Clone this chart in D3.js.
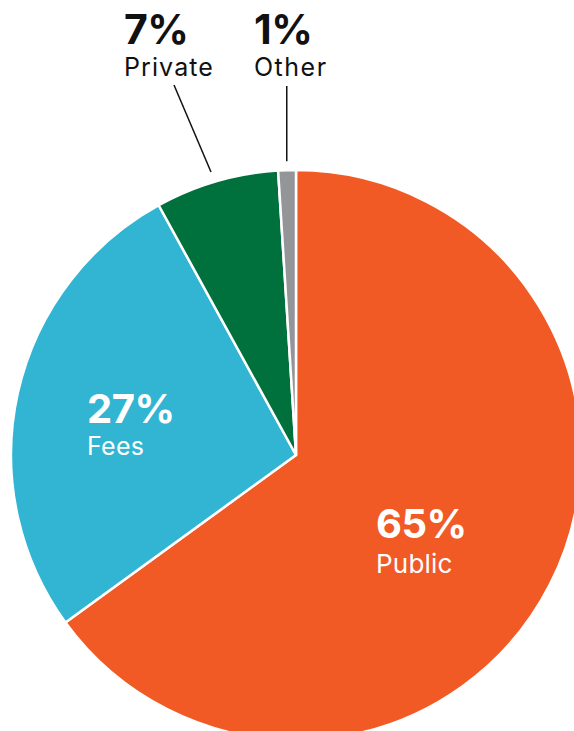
<!DOCTYPE html>
<html><head><meta charset="utf-8">
<script src="https://cdn.jsdelivr.net/npm/d3@7"></script>
<style>body{margin:0;background:#fff;overflow:hidden}svg{display:block}</style>
</head><body>
<svg id="c" width="574" height="731"></svg>
<script>
const categories = ["Public", "Fees", "Private", "Other"];
const values = [65, 27, 7, 1];
const colors = ["#F15A24", "#31B5D2", "#00703C", "#939598"];

const svg = d3.select("#c");
const cx = 296, cy = 455, R = 285;
const g = svg.append("g").attr("transform", `translate(${cx},${cy})`);
const data = categories.map((c, i) => ({cat: c, value: values[i], color: colors[i]}));
const pie = d3.pie().value(d => d.value).sort(null);
const arcs = pie(data);
const arc = d3.arc().innerRadius(0).outerRadius(R);
g.selectAll("path").data(arcs).join("path")
  .attr("d", arc).attr("fill", d => d.data.color)
  .attr("stroke", "#fff").attr("stroke-width", 2.5).attr("stroke-linejoin", "round");

const font = "Inter, 'Noto Sans', sans-serif";
function label(x, y, pct, name, fill, big, small, gap, ls) {
  const t = svg.append("g");
  t.append("text").attr("x", x).attr("y", y)
    .attr("font-family", font).attr("font-weight", 700).attr("font-size", big)
    .attr("fill", fill).attr("letter-spacing", -0.5).text(pct + "%");
  t.append("text").attr("x", x).attr("y", y + gap)
    .attr("font-family", font).attr("font-weight", 400).attr("font-size", small)
    .attr("fill", fill).attr("letter-spacing", ls).text(name);
}
// inside labels
label(87, 423, values[1], categories[1], "#fff", 40, 25, 32, 0.3);
label(376, 538, values[0], categories[0], "#fff", 40, 26, 35, 0.2);
// outside labels
label(124, 44, values[2], categories[2], "#111", 41, 25, 32, 1.1);
label(254, 44, values[3], categories[3], "#111", 41, 25, 32, 1.5);

function edge(a, r) { return [cx + r * Math.sin(a), cy - r * Math.cos(a)]; }
svg.append("line").attr("x1", 174).attr("y1", 85).attr("x2", 211).attr("y2", 172)
  .attr("stroke", "#111").attr("stroke-width", 1.5);
const oa = (arcs[3].startAngle + arcs[3].endAngle) / 2;
const o2 = edge(oa, R + 9);
svg.append("line").attr("x1", o2[0]).attr("y1", 86).attr("x2", o2[0]).attr("y2", o2[1])
  .attr("stroke", "#111").attr("stroke-width", 1.5);
</script>
</body></html>
